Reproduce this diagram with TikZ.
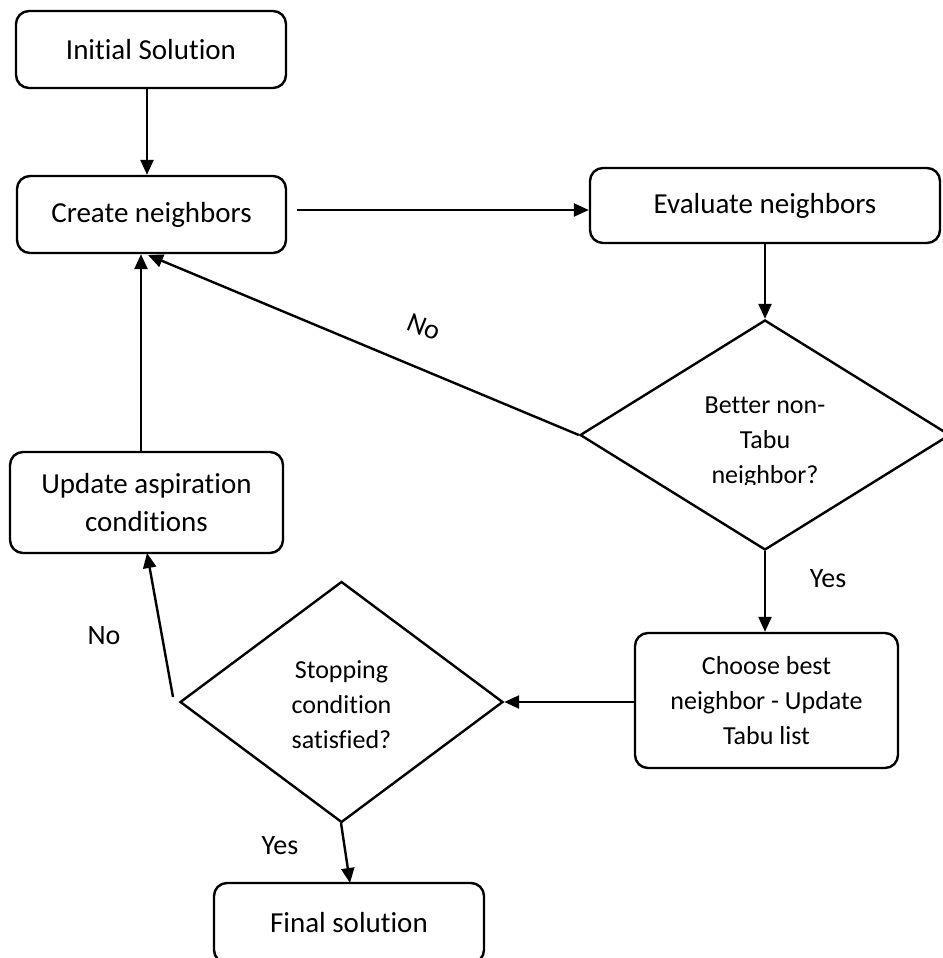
\documentclass[tikz,border=0pt]{standalone}
\usepackage{fontspec}
\setmainfont{Carlito}[Ligatures={NoCommon}]
\usetikzlibrary{shapes.geometric,arrows.meta}
\tikzset{
  box/.style={draw, line width=2.4pt, rounded corners=13pt, align=center, inner sep=0pt,
    font=\fontsize{29}{38}\selectfont},
  smallbox/.style={box, font=\fontsize{26}{35}\selectfont},
  decision/.style={draw, line width=2.4pt, diamond, inner sep=0pt},
  dtext/.style={align=center, inner sep=0pt, font=\fontsize{26}{35}\selectfont},
  lab/.style={inner sep=0pt, font=\fontsize{28}{34}\selectfont},
  conn/.style={line width=2.4pt, -{Triangle[length=15pt,width=13pt]}}
}
\begin{document}
\begin{tikzpicture}[x=1pt,y=-1pt]
\useasboundingbox (0,0) rectangle (942,958);
\node[box, minimum width=270pt, minimum height=77pt] (init) at (151,49.5) {Initial Solution};
\node[box, minimum width=269pt, minimum height=77pt] (create) at (151.5,214.5) {Create neighbors};
\node[box, minimum width=350pt, minimum height=75pt] (eval) at (765,205.5) {Evaluate neighbors};
\node[decision, minimum width=370pt, minimum height=230pt] (d1) at (765,435) {};
\begin{scope}
  \clip (580,300) rectangle (950,484);
  \node[dtext] (d1t) at (765,442) {Better non-\\Tabu\\neighbor?};
\end{scope}
\node[box, minimum width=273pt, minimum height=101pt] (upd) at (146.5,502.5) {Update aspiration\\conditions};
\node[smallbox, minimum width=263pt, minimum height=135pt] (choose) at (766.5,700.5) {Choose best\\neighbor - Update\\Tabu list};
\node[decision, minimum width=323pt, minimum height=241pt] (d2) at (341.5,702) {};
\node[dtext] (d2t) at (341.5,705) {Stopping\\condition\\satisfied?};
\node[box, minimum width=270pt, minimum height=80pt] (final) at (349,923) {Final solution};

\coordinate (cr) at (297,210);
\coordinate (eu) at (765,242);
\coordinate (ctip) at (148,255);
\coordinate (d2l) at (173,697);
\coordinate (updb) at (147,553);
\coordinate (d2b) at (341,823);
\coordinate (fint) at (350,883);

\draw[conn] (init.south -| 147,0) -- (create.north -| 147,0);
\draw[conn] (cr) -- (cr -| eval.west);
\draw[conn] (eu) -- (d1.north);
\draw[conn] (d1.west) -- (ctip);
\draw[conn] (upd.north -| 141,0) -- (create.south -| 141,0);
\draw[conn] (d1.south) -- (choose.north -| d1.south);
\draw[conn] (choose.west |- 0,702) -- (d2.east);
\draw[conn] (d2l) -- (updb);
\draw[conn] (d2b) -- (fint);

\node[lab, rotate=-22] (no1) at (424,327) {No};
\node[lab] (yes1) at (828,579) {Yes};
\node[lab] (no2) at (104,636) {No};
\node[lab] (yes2) at (280,846) {Yes};
\end{tikzpicture}
\end{document}
